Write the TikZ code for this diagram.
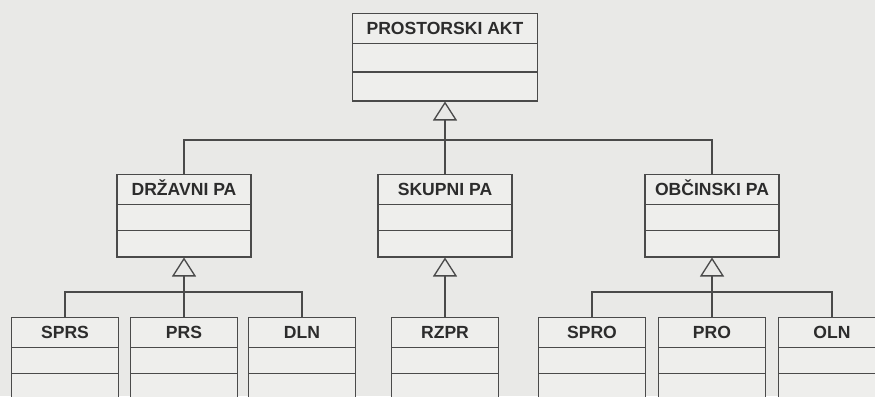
\documentclass[tikz,border=0pt]{standalone}
\usepackage{fontspec}
\setmainfont{Liberation Sans}
\usetikzlibrary{shapes.multipart,arrows.meta}
\definecolor{paper}{HTML}{E9E9E7}
\definecolor{boxfill}{HTML}{EEEEEC}
\definecolor{ink}{HTML}{4A4A4A}
\definecolor{txt}{HTML}{2C2C2C}

\begin{document}
\begin{tikzpicture}[x=0.02cm, y=-0.02cm, line width=0.75pt, font=\bfseries,
  >={Triangle[open, length=0.38cm, width=0.48cm]},
  cls/.style={draw=ink, fill=boxfill, text=txt, rectangle split, rectangle split parts=3,
    inner sep=0pt, anchor=north, rectangle split empty part depth=0pt,
    execute at begin node={\rule[-0.16cm]{0pt}{0.565cm}}},
  top/.style={cls, minimum width=3.7cm, rectangle split empty part height=0.55cm},
  mid/.style={cls, minimum width=2.68cm, rectangle split empty part height=0.5cm},
  low/.style={cls, minimum width=2.13cm, rectangle split empty part height=0.5cm},
  gen/.style={draw=ink, ->},
  bus/.style={draw=ink}]
% frame
\useasboundingbox (0,0) rectangle (875,396);
\clip (0,0) rectangle (875,396);
\fill[paper] (0,0) rectangle (875,396);
% root class
\node[top] (akt) at (445,13) {PROSTORSKI AKT};
% second level
\node[mid] (drz) at (184,174) {DRŽAVNI PA};
\node[mid] (sku) at (445,174) {SKUPNI PA};
\node[mid] (obc) at (712,174) {OBČINSKI PA};
% third level
\node[low] (sprs) at (65,317) {SPRS};
\node[low] (prs) at (184,317) {PRS};
\node[low] (dln) at (302,317) {DLN};
\node[low] (rzpr) at (445,317) {RZPR};
\node[low] (spro) at (592,317) {SPRO};
\node[low] (pro) at (712,317) {PRO};
\node[low] (oln) at (832,317) {OLN};
% generalisation buses
\coordinate (akt bus) at (akt.south |- 0,140);
\coordinate (drz bus) at (drz.south |- 0,292);
\coordinate (obc bus) at (obc.south |- 0,292);
% connectors
\foreach \c in {drz,sku,obc} \draw[bus] (\c.north) |- (akt bus);
\draw[gen] (akt bus) -- (akt.south);
\foreach \c in {sprs,prs,dln} \draw[bus] (\c.north) |- (drz bus);
\draw[gen] (drz bus) -- (drz.south);
\draw[gen] (rzpr.north) -- (sku.south);
\foreach \c in {spro,pro,oln} \draw[bus] (\c.north) |- (obc bus);
\draw[gen] (obc bus) -- (obc.south);
\end{tikzpicture}
\end{document}
